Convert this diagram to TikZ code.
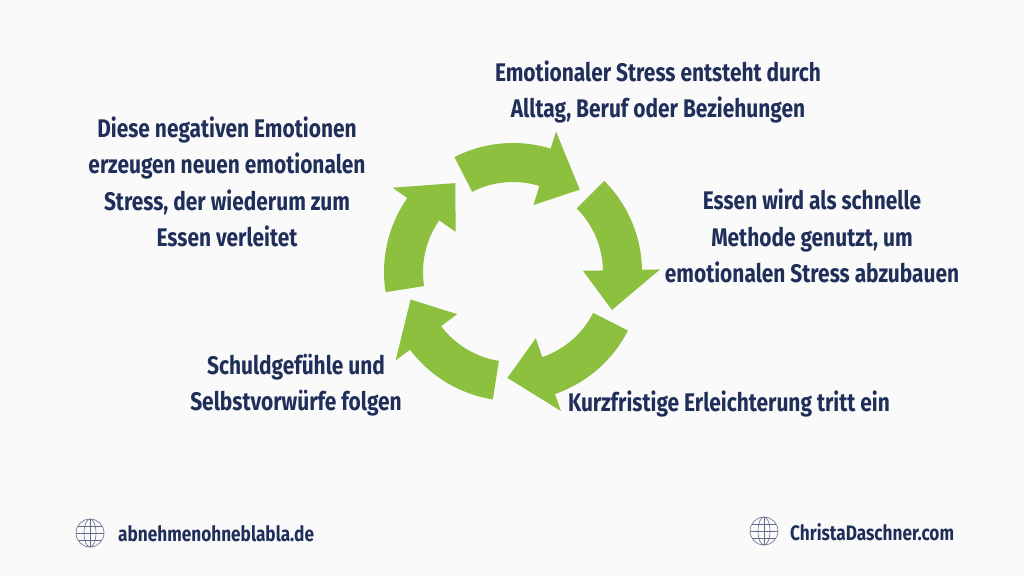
\documentclass[tikz,border=0pt]{standalone}
\usepackage{fontspec}
\setmainfont[FakeStretch=0.82]{Fira Sans}
\definecolor{navy}{HTML}{1F2F5A}
\definecolor{leaf}{HTML}{8DC03F}
\definecolor{paper}{HTML}{FAFAFA}
\newcommand{\cyclearrow}[1]{%
  \fill[leaf] (#1:129) arc[start angle=#1, end angle=#1+44, radius=129]
    -- (#1+44:147) -- (#1+66:106) -- (#1+44:70) -- (#1+44:90)
    arc[start angle=#1+44, end angle=#1, radius=90] -- cycle;}
\tikzset{
  caption/.style={text=navy, font=\fontsize{25.5}{36.5}\selectfont\bfseries, align=center, inner sep=0pt},
  footer/.style={text=navy, font=\fontsize{21}{24}\selectfont\bfseries, anchor=west, inner sep=0pt},
  globe/.style={draw=navy!70, line width=0.6pt}
}
\begin{document}
\begin{tikzpicture}[x=1pt,y=-1pt]
\fill[paper] (0,0) rectangle (1024,576);
\useasboundingbox (0,0) rectangle (1024,576);
% cycle
\begin{scope}[shift={(513,272)}]
  \foreach \a in {-117,-45,27,99,171} {\cyclearrow{\a}}
\end{scope}
% captions
\node[caption] (stress) at (658,92) {Emotionaler Stress entsteht durch\\Alltag, Beruf oder Beziehungen};
\node[caption] (essen) at (812,236) {Essen wird als schnelle\\Methode genutzt, um\\emotionalen Stress abzubauen};
\node[caption] (relief) at (729,404) {Kurzfristige Erleichterung tritt ein};
\node[caption] (guilt) at (296,385) {Schuldgefühle und\\Selbstvorwürfe folgen};
\node[caption] (loop) at (227,182) {Diese negativen Emotionen\\erzeugen neuen emotionalen\\Stress, der wiederum zum\\Essen verleitet};
% footer
\foreach \gx/\gy in {90/533, 764/531} {
  \begin{scope}[shift={(\gx,\gy)}]
    \draw[globe] (0,0) circle (14);
    \draw[globe] (0,0) ellipse (6 and 14);
    \draw[globe] (0,-14) -- (0,14) (-14,0) -- (14,0) (-12,-7) -- (12,-7) (-12,7) -- (12,7);
  \end{scope}
}
\node[footer] (siteA) at (118,534) {abnehmenohneblabla.de};
\node[footer] (siteB) at (790,532) {ChristaDaschner.com};
\end{tikzpicture}
\end{document}
